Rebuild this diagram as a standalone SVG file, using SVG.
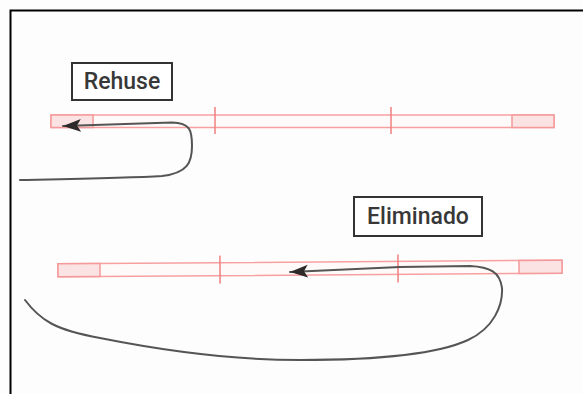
<svg xmlns="http://www.w3.org/2000/svg" width="583" height="394" viewBox="0 0 583 394">
<style>
.bar{fill:#fffafa;stroke:#f7a0a0;stroke-width:1.5}
.cell{fill:#fbe3e3;stroke:#f49a9a;stroke-width:1.5}
.tick{stroke:#f07f7f;stroke-width:1.5}
.lbl rect{fill:#ffffff;stroke:#333;stroke-width:2}
.lbl text{font-family:Roboto,"Liberation Sans",sans-serif;font-size:23px;font-weight:500;fill:#383838;text-anchor:middle;dominant-baseline:central}
.wire{fill:none;stroke:#555;stroke-width:2;stroke-linecap:round}
</style>
<defs>
<marker id="ah" markerUnits="userSpaceOnUse" markerWidth="20" markerHeight="14" refX="18" refY="7" orient="auto">
<path d="M0,0.5 L18,7 L0,13.5 L4,7 Z" fill="#2e2a2a"/>
</marker>
</defs>
<rect x="0" y="0" width="583" height="394" fill="#fdfdfd"/>
<path d="M10.5,394 V10.5 H583" fill="none" stroke="#000" stroke-width="2"/>
<g id="bar1">
<rect class="bar" x="51" y="115" width="503" height="12.5"/>
<rect class="cell" x="51" y="115" width="42" height="12.5"/>
<rect class="cell" x="512" y="115" width="42" height="12.5"/>
<line class="tick" x1="215" y1="107" x2="215" y2="134"/>
<line class="tick" x1="391" y1="107" x2="391" y2="134"/>
</g>
<g id="bar2" transform="rotate(-0.4 310 268)">
<rect class="bar" x="58" y="262" width="504" height="13"/>
<rect class="cell" x="58" y="262" width="42" height="13"/>
<rect class="cell" x="519" y="262" width="43" height="13"/>
<line class="tick" x1="220" y1="255" x2="220" y2="283"/>
<line class="tick" x1="398" y1="255" x2="398" y2="283"/>
</g>
<g id="rehuse" class="lbl">
<rect x="72" y="63" width="100" height="37"/>
<text x="122" y="81.5">Rehuse</text>
</g>
<g id="eliminado" class="lbl">
<rect x="354" y="197" width="128" height="39"/>
<text x="418" y="216">Eliminado</text>
</g>
<g id="connectors">
<path class="wire" marker-end="url(#ah)" d="M20,180 C70,179 130,178 162,176 C188,173 192,162 192,146 C192,130 190,123 172,122.5 L63,126"/>
<path class="wire" marker-end="url(#ah)" d="M25,300 C40,320 55,330 100,338 C160,350 230,360 300,360 C380,360 440,353 468,340 C494,328 503,305 502,288 C500,272 490,267 470,266 L400,267 L290,272"/>
</g>
</svg>
